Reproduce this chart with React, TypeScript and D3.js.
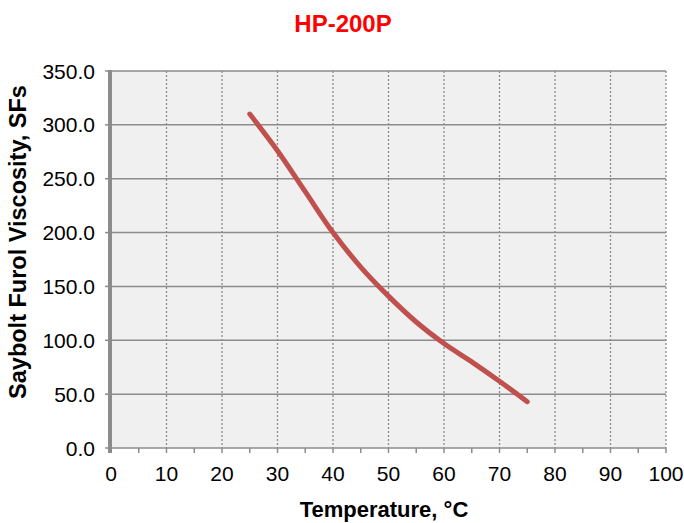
import React, { useEffect, useRef } from "react";
import * as d3 from "d3";

// Viscosity curve
const temps = [25, 30, 35, 40, 45, 50, 55, 60, 65, 70, 75];
const viscosity = [310, 276, 238, 200, 168, 141, 117, 97, 80, 62, 43];

const xTicks = [0, 10, 20, 30, 40, 50, 60, 70, 80, 90, 100];
const yTicks = [0, 50, 100, 150, 200, 250, 300, 350];

const App = () => {
  const svgRef = useRef<SVGSVGElement>(null);

  useEffect(() => {
    const width = 684;
    const height = 523;
    const left = 111;
    const right = 666;
    const top = 71;
    const bottom = 448;
    const font = "'Liberation Sans', Arial, sans-serif";

    const svg = d3.select(svgRef.current);
    svg.selectAll("*").remove();
    svg.attr("width", width).attr("height", height);

    const x = d3.scaleLinear().domain([0, 100]).range([left, right]);
    const y = d3.scaleLinear().domain([0, 350]).range([bottom, top]);

    // plot background
    svg
      .append("rect")
      .attr("x", left)
      .attr("y", top)
      .attr("width", right - left)
      .attr("height", bottom - top)
      .attr("fill", "#f0f0f0");

    // vertical dotted grid
    svg
      .append("g")
      .selectAll("line")
      .data(xTicks.slice(1))
      .join("line")
      .attr("x1", (d) => x(d))
      .attr("x2", (d) => x(d))
      .attr("y1", top)
      .attr("y2", bottom)
      .attr("stroke", "#8c8c8c")
      .attr("stroke-width", 1.3)
      .attr("stroke-dasharray", "2,2");

    // horizontal solid grid
    svg
      .append("g")
      .selectAll("line")
      .data(yTicks.slice(1))
      .join("line")
      .attr("x1", left)
      .attr("x2", right)
      .attr("y1", (d) => y(d))
      .attr("y2", (d) => y(d))
      .attr("stroke", "#8c8c8c")
      .attr("stroke-width", 1.5);

    // x axis line + ticks (major and minor)
    svg
      .append("line")
      .attr("x1", left)
      .attr("x2", right)
      .attr("y1", bottom)
      .attr("y2", bottom)
      .attr("stroke", "#8c8c8c")
      .attr("stroke-width", 1.5);

    svg
      .append("g")
      .selectAll("line")
      .data(d3.range(0, 101, 5))
      .join("line")
      .attr("x1", (d) => x(d))
      .attr("x2", (d) => x(d))
      .attr("y1", bottom)
      .attr("y2", bottom + 5)
      .attr("stroke", "#8c8c8c")
      .attr("stroke-width", 1.5);

    svg
      .append("g")
      .selectAll("text")
      .data(xTicks)
      .join("text")
      .attr("x", (d) => x(d))
      .attr("y", bottom + 33)
      .attr("text-anchor", "middle")
      .style("font-family", font)
      .style("font-size", "21px")
      .text((d) => d);

    // y axis: thick left bar with small outward ticks
    svg
      .append("g")
      .selectAll("line")
      .data(yTicks)
      .join("line")
      .attr("x1", left - 6)
      .attr("x2", left)
      .attr("y1", (d) => y(d))
      .attr("y2", (d) => y(d))
      .attr("stroke", "#8c8c8c")
      .attr("stroke-width", 1.5);

    svg
      .append("line")
      .attr("x1", left - 1)
      .attr("x2", left - 1)
      .attr("y1", top - 1)
      .attr("y2", bottom + 5)
      .attr("stroke", "#8c8c8c")
      .attr("stroke-width", 4);

    svg
      .append("g")
      .selectAll("text")
      .data(yTicks)
      .join("text")
      .attr("x", left - 16)
      .attr("y", (d) => y(d) + 7.5)
      .attr("text-anchor", "end")
      .style("font-family", font)
      .style("font-size", "21px")
      .text((d) => d3.format(".1f")(d));

    // curve
    const line = d3
      .line<number>()
      .x((d, i) => x(temps[i]))
      .y((d) => y(d))
      .curve(d3.curveMonotoneX);

    svg
      .append("path")
      .datum(viscosity)
      .attr("d", line)
      .attr("fill", "none")
      .attr("stroke", "#c0504d")
      .attr("stroke-width", 5)
      .attr("stroke-linecap", "round");

    // titles
    svg
      .append("text")
      .attr("x", 343)
      .attr("y", 32)
      .attr("text-anchor", "middle")
      .attr("fill", "#ff0000")
      .style("font-family", font)
      .style("font-size", "24px")
      .style("font-weight", "bold")
      .text("HP-200P");

    svg
      .append("text")
      .attr("x", 384)
      .attr("y", 517)
      .attr("text-anchor", "middle")
      .style("font-family", font)
      .style("font-size", "22px")
      .style("font-weight", "bold")
      .text("Temperature, °C");

    svg
      .append("text")
      .attr("transform", "translate(26, 242) rotate(-90)")
      .attr("text-anchor", "middle")
      .style("font-family", font)
      .style("font-size", "23.5px")
      .style("font-weight", "bold")
      .text("Saybolt Furol Viscosity, SFs");
  }, []);

  return (
    <div style={{ position: "absolute", left: 0, top: 0 }}>
      <svg ref={svgRef}></svg>
    </div>
  );
};

export default App;
